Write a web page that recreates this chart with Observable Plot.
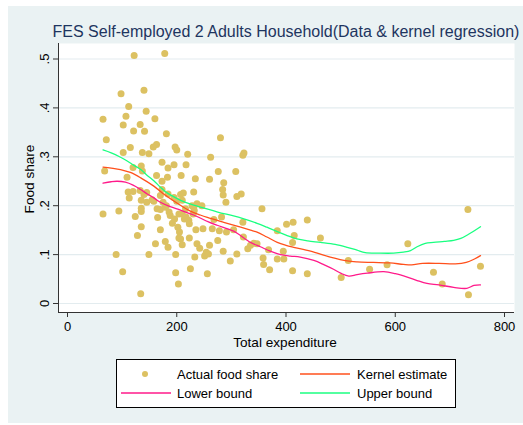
<!DOCTYPE html>
<html>
<head>
<meta charset="utf-8">
<script src="https://cdn.jsdelivr.net/npm/d3@7"></script>
<script src="https://cdn.jsdelivr.net/npm/@observablehq/plot@0.6"></script>
<style>
  body { margin: 0; background: #fff; font-family: "Liberation Sans", Arial, sans-serif; }
  #wrap { position: relative; width: 523px; height: 425px; overflow: hidden; }
  #bg { position: absolute; left: 8px; top: 6px; right: 0; bottom: 2px; background: #eaf2f3; }
  #chart { position: absolute; left: 0; top: 0; }
  .txt { position: absolute; white-space: nowrap; color: #000; font-size: 13.6px; line-height: 14px; }
  #title { left: 286px; top: 24px; transform: translateX(-50%); font-size: 16px; line-height: 16px; color: #1e3560; }
  #xlab { left: 285px; top: 336px; transform: translateX(-50%); }
  #ylab { left: 30px; top: 179px; transform: translate(-50%, -50%) rotate(-90deg); }
  #legend { position: absolute; left: 116px; top: 359px; }
</style>
</head>
<body>
<div id="wrap">
  <div id="bg"></div>
  <div id="chart"></div>
  <div class="txt" id="title">FES Self-employed 2 Adults Household(Data &amp; kernel regression)</div>
  <div class="txt" id="xlab">Total expenditure</div>
  <div class="txt" id="ylab">Food share</div>
  <div id="legend"></div>
</div>
<script>
// datos: [gasto total, proporcion alimentos]
const actual = [
  [122,.507],[178,.511],[98,.429],[140,.436],[112,.403],[144,.393],[65,.377],[107,.383],[160,.378],[102,.365],
  [133,.366],[121,.353],[141,.352],[181,.347],[71,.335],[280,.339],[115,.319],[102,.309],[137,.309],[149,.306],
  [157,.320],[163,.325],[197,.320],[200,.314],[220,.305],[262,.299],[323,.308],[321,.303],
  [68,.271],[120,.278],[135,.281],[137,.271],[173,.289],[184,.277],[195,.284],[217,.284],[109,.258],[163,.262],
  [183,.258],[208,.262],[234,.255],[173,.250],[276,.270],[308,.270],[260,.254],[286,.247],
  [111,.228],[113,.216],[120,.229],[133,.231],[140,.223],[135,.211],[145,.207],[145,.227],[158,.209],[170,.221],
  [173,.233],[175,.207],[184,.224],[195,.217],[207,.223],[212,.226],[231,.228],[228,.200],[237,.204],[246,.200],
  [284,.233],[285,.222],[318,.224],[310,.219],[290,.207],[155,.212],[181,.200],[210,.211],[200,.209],
  [65,.183],[94,.189],[124,.178],[135,.195],[135,.188],[164,.194],[165,.176],[170,.192],[179,.197],[186,.187],
  [188,.180],[196,.173],[192,.164],[204,.183],[210,.183],[214,.173],[216,.194],[217,.177],[222,.170],[223,.163],
  [230,.183],[232,.190],[231,.197],[202,.156],[268,.172],[282,.177],[321,.166],[356,.194],[401,.162],[413,.166],
  [439,.171],[733,.192],[135,.157],[170,.151],[235,.151],[248,.153],[265,.153],[278,.149],[304,.151],[291,.146],
  [384,.149],
  [128,.139],[161,.122],[149,.100],[179,.127],[184,.115],[198,.100],[205,.146],[207,.132],[204,.134],[223,.134],
  [210,.120],[237,.122],[242,.113],[233,.095],[251,.097],[254,.105],[258,.101],[260,.119],[275,.129],[285,.107],
  [310,.101],[322,.136],[330,.112],[335,.119],[341,.123],[347,.122],[358,.093],[359,.080],[370,.069],[384,.091],
  [395,.107],[396,.091],[412,.125],[415,.139],[463,.134],[368,.110],[298,.087],[514,.088],[501,.053],[553,.070],
  [585,.079],[623,.122],[670,.064],[686,.040],[734,.018],[756,.076],
  [89,.100],[101,.065],[134,.020],[198,.063],[203,.040],[225,.071],[256,.061],[412,.067],[439,.061]
]

const kernelEst = [
  [65,.279],[80,.277],[97,.274],[115,.268],[134,.257],[158,.240],[176,.224],[201,.205],[225,.189],[243,.181],
  [256,.176],[286,.166],[317,.156],[335,.150],[347,.146],[365,.136],[384,.125],[400,.119],[414,.115],[445,.107],
  [481,.095],[512,.087],[530,.085],[560,.084],[590,.083],[615,.080],[630,.079],[650,.082],[680,.082],[710,.081],
  [730,.084],[745,.091],[756,.098]
]

const lowerBound = [
  [65,.246],[80,.249],[91,.250],[106,.248],[120,.242],[134,.233],[146,.224],[158,.216],[170,.207],[188,.198],
  [207,.191],[231,.181],[258,.167],[274,.160],[304,.148],[335,.125],[353,.116],[371,.107],[390,.100],[408,.097],
  [426,.095],[451,.088],[470,.079],[487,.070],[500,.062],[515,.056],[530,.059],[549,.062],[579,.065],[600,.061],
  [622,.054],[640,.047],[658,.041],[680,.038],[707,.033],[731,.031],[744,.037],[756,.038]
]

const upperBound = [
  [65,.314],[80,.308],[97,.299],[110,.291],[121,.283],[134,.274],[146,.262],[158,.251],[170,.238],[180,.228],
  [190,.221],[207,.211],[231,.201],[250,.195],[275,.187],[304,.179],[320,.174],[347,.164],[365,.156],[384,.147],
  [400,.140],[420,.132],[440,.128],[463,.125],[490,.121],[512,.115],[530,.109],[545,.104],[570,.103],[597,.103],
  [615,.105],[628,.108],[640,.116],[655,.123],[670,.125],[690,.127],[707,.129],[720,.133],[735,.142],[756,.157]
]

const xTicks = [0, 200, 400, 600, 800]
const yTicks = [0, .1, .2, .3, .4, .5]
const yTickLabels = ['0', '.1', '.2', '.3', '.4', '.5']

const seriesNames = ['Actual food share', 'Kernel estimate', 'Lower bound', 'Upper bound']
const seriesColors = ['#dcc162', '#ff501c', '#ff1a8a', '#1aff80']

const xDomain = [-16.5, 818.3]
const yDomain = [-0.0184, 0.5317]

let chart = Plot.plot({
  width: 523,
  height: 355,
  marginLeft: 58,
  marginRight: 9,
  marginTop: 43,
  marginBottom: 43,
  style: { background: 'transparent', fontFamily: '"Liberation Sans", Arial, sans-serif', fontSize: '13px', color: '#000' },
  x: { domain: xDomain },
  y: { domain: yDomain },
  marks: [
    Plot.frame({ fill: 'white', stroke: null }),
    Plot.gridY(yTicks, { stroke: '#e3ecef', strokeOpacity: 1, strokeWidth: 1.2 }),
    Plot.dot(actual, { x: d => d[0], y: d => d[1], r: 3.5, fill: seriesColors[0], stroke: null }),
    Plot.line(kernelEst, { x: d => d[0], y: d => d[1], stroke: seriesColors[1], strokeWidth: 1.3, curve: 'catmull-rom' }),
    Plot.line(lowerBound, { x: d => d[0], y: d => d[1], stroke: seriesColors[2], strokeWidth: 1.3, curve: 'catmull-rom' }),
    Plot.line(upperBound, { x: d => d[0], y: d => d[1], stroke: seriesColors[3], strokeWidth: 1.3, curve: 'catmull-rom' }),
    Plot.ruleX([xDomain[0]], { stroke: '#333' }),
    Plot.ruleY([yDomain[0]], { stroke: '#333' }),
    Plot.axisX(xTicks, { tickSize: 5, tickPadding: 4, stroke: '#333', fill: '#000', label: null }),
    Plot.axisY(yTicks, {
      tickSize: 5, tickPadding: 5, tickRotate: -90, stroke: '#333', fill: '#000', label: null,
      tickFormat: d => yTickLabels[yTicks.indexOf(d)]
    })
  ]
})
d3.select('#chart').append(() => chart)

// leyenda
const leg = d3.select('#legend').append('svg').attr('width', 341).attr('height', 50)
leg.append('rect').attr('x', 0.5).attr('y', 0.5).attr('width', 339).attr('height', 48)
  .attr('fill', 'white').attr('stroke', '#000')
const items = [
  { cx: 5, tx: 61, y: 15 },
  { cx: 184, tx: 241, y: 15 },
  { cx: 5, tx: 61, y: 34 },
  { cx: 184, tx: 241, y: 34 }
]
items.forEach((it, i) => {
  if (i === 0) {
    leg.append('circle').attr('cx', 29).attr('cy', it.y).attr('r', 3).attr('fill', seriesColors[0])
  } else {
    leg.append('line').attr('x1', it.cx).attr('x2', it.cx + 50).attr('y1', it.y).attr('y2', it.y)
      .attr('stroke', seriesColors[i]).attr('stroke-width', 1.3)
  }
  leg.append('text').attr('x', it.tx).attr('y', it.y + 4.5)
    .attr('font-family', '"Liberation Sans", Arial, sans-serif').attr('font-size', 13)
    .text(seriesNames[i])
})
</script>
</body>
</html>
